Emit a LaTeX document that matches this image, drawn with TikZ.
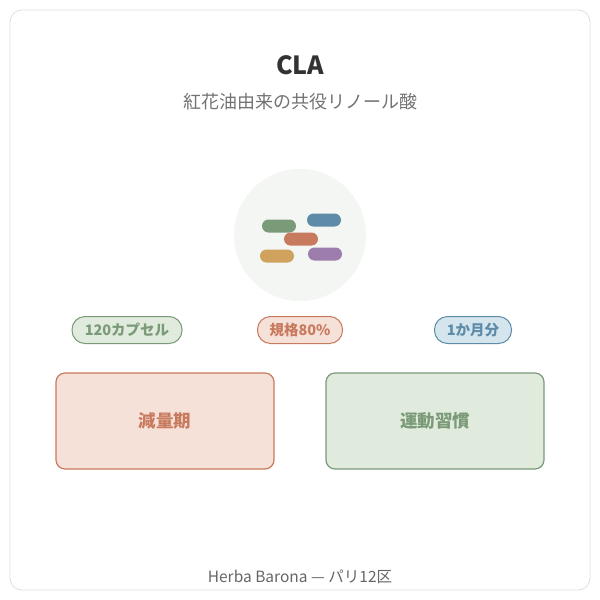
\documentclass[tikz,border=0pt]{standalone}
\usepackage{fontspec}
\setmainfont{Noto Sans CJK JP}
\begin{document}
\begin{tikzpicture}[x=1pt,y=-1pt,
 pill/.style={rounded corners=6.5pt,minimum width=34pt,minimum height=13pt,inner sep=0pt},
 tag/.style={draw,line width=1pt,rounded corners=13pt,minimum height=27pt,inner xsep=6pt,font=\bfseries\fontsize{14.5}{14.5}\selectfont},
 box/.style={draw,line width=1.2pt,rounded corners=9pt,minimum width=218pt,minimum height=96pt,font=\bfseries\fontsize{17.5}{17.5}\selectfont}]
\definecolor{gr}{HTML}{7A9A78}\definecolor{grf}{HTML}{E0EBDD}
\definecolor{og}{HTML}{C87A5E}\definecolor{ogf}{HTML}{F6E1D8}
\definecolor{bl}{HTML}{5E8CA8}\definecolor{blf}{HTML}{D5E5EE}
\definecolor{gd}{HTML}{CFA35E}\definecolor{pu}{HTML}{9C7DAE}
\definecolor{cf}{HTML}{F4F6F3}
\useasboundingbox (0,0) rectangle (600,600);
\fill[white] (0,0) rectangle (600,600);
\draw[draw=black!12,line width=0.8pt,rounded corners=12pt] (10,10) rectangle (590,590);
\node[font=\bfseries\fontsize{25}{25}\selectfont,text=black!80] (t) at (300,65) {CLA};
\node[font=\fontsize{18}{18}\selectfont,text=black!55] (s) at (300,102) {紅花油由来の共役リノール酸};
\node[circle,fill=cf,minimum size=132pt] (c) at (300,235) {};
\node[pill,fill=gr] (p1) at (279,226) {};
\node[pill,fill=bl] (p2) at (324,220) {};
\node[pill,fill=og] (p3) at (301,239) {};
\node[pill,fill=gd] (p4) at (277,256) {};
\node[pill,fill=pu] (p5) at (325,254) {};
\node[tag,draw=gr,fill=grf,text=gr,minimum width=110pt] (a) at (127,330) {120カプセル};
\node[tag,draw=og,fill=ogf,text=og,minimum width=85pt] (b) at (300,330) {規格80\%};
\node[tag,draw=bl,fill=blf,text=bl,minimum width=77pt] (d) at (473,330) {1か月分};
\node[box,draw=og,fill=ogf,text=og] (l) at (165,421) {減量期};
\node[box,draw=gr,fill=grf,text=gr] (r) at (435,421) {運動習慣};
\node[font=\fontsize{15.5}{15.5}\selectfont,text=black!60] (f) at (300,577) {Herba Barona — パリ12区};
\end{tikzpicture}
\end{document}
